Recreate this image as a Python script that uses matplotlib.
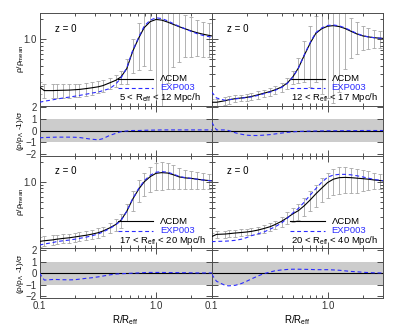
import numpy as np
from matplotlib import pyplot as plt
from matplotlib import ticker

plt.rcParams['font.family'] = ['Liberation Sans', 'DejaVu Sans']
plt.rcParams['mathtext.fontset'] = 'custom'
plt.rcParams['mathtext.rm'] = 'Liberation Sans'
plt.rcParams['mathtext.it'] = 'Liberation Sans:italic'

# radial bins R/R_eff
r_bins = [0.10, 0.11, 0.13, 0.14, 0.16, 0.18, 0.20, 0.22, 0.25, 0.28, 0.32,
          0.35, 0.40, 0.45, 0.50, 0.56, 0.63, 0.71, 0.79, 0.89, 1.00, 1.12,
          1.26, 1.41, 1.58, 1.78, 2.00, 2.24, 2.51, 2.82, 3.16]

bin_labels = ["5 < R$_{\\rm eff}$ < 12 Mpc/h", "12 < R$_{\\rm eff}$ < 17 Mpc/h",
              "17 < R$_{\\rm eff}$ < 20 Mpc/h", "20 < R$_{\\rm eff}$ < 40 Mpc/h"]

# LCDM profiles
lcdm_1 = [0.19, 0.168, 0.168, 0.169, 0.170, 0.171, 0.173, 0.175, 0.18, 0.185, 0.192,
          0.20, 0.22, 0.24, 0.27, 0.36, 0.66, 1.05, 1.50, 1.85, 2.00, 1.95,
          1.82, 1.68, 1.55, 1.44, 1.34, 1.26, 1.20, 1.15, 1.11]
lcdm_2 = [0.112, 0.112, 0.118, 0.122, 0.127, 0.130, 0.133, 0.137, 0.145, 0.153, 0.163,
          0.172, 0.19, 0.22, 0.27, 0.37, 0.58, 0.89, 1.23, 1.45, 1.58, 1.61,
          1.56, 1.46, 1.33, 1.21, 1.13, 1.09, 1.06, 1.04, 1.03]
lcdm_3 = [0.127, 0.130, 0.134, 0.137, 0.141, 0.144, 0.148, 0.152, 0.157, 0.163, 0.172,
          0.182, 0.203, 0.228, 0.265, 0.36, 0.55, 0.78, 1.00, 1.20, 1.35, 1.38,
          1.36, 1.28, 1.19, 1.15, 1.13, 1.10, 1.07, 1.05, 1.03]
lcdm_4 = [0.150, 0.162, 0.164, 0.166, 0.170, 0.173, 0.176, 0.180, 0.188, 0.198, 0.212,
          0.227, 0.255, 0.29, 0.33, 0.37, 0.44, 0.54, 0.66, 0.81, 0.98, 1.10,
          1.16, 1.17, 1.16, 1.14, 1.12, 1.10, 1.07, 1.05, 1.03]

# EXP003 profiles
exp_1 = [0.112, 0.116, 0.122, 0.125, 0.130, 0.134, 0.138, 0.142, 0.148, 0.154, 0.160,
         0.168, 0.18, 0.21, 0.26, 0.37, 0.68, 1.08, 1.58, 1.95, 2.12, 2.06,
         1.90, 1.72, 1.57, 1.44, 1.32, 1.22, 1.15, 1.10, 1.06]
exp_2 = [0.16, 0.13, 0.12, 0.122, 0.126, 0.129, 0.132, 0.135, 0.142, 0.150, 0.160,
         0.169, 0.187, 0.217, 0.268, 0.37, 0.59, 0.91, 1.26, 1.49, 1.62, 1.65,
         1.60, 1.49, 1.36, 1.23, 1.14, 1.09, 1.06, 1.04, 1.03]
exp_3 = [0.112, 0.116, 0.122, 0.126, 0.130, 0.133, 0.137, 0.141, 0.147, 0.154, 0.165,
         0.176, 0.198, 0.225, 0.262, 0.36, 0.56, 0.80, 1.04, 1.26, 1.40, 1.43,
         1.40, 1.31, 1.21, 1.16, 1.13, 1.10, 1.07, 1.05, 1.03]
exp_4 = [0.126, 0.127, 0.128, 0.129, 0.132, 0.137, 0.145, 0.155, 0.165, 0.175, 0.195,
         0.21, 0.24, 0.285, 0.34, 0.40, 0.50, 0.64, 0.79, 0.99, 1.18, 1.27,
         1.30, 1.30, 1.28, 1.24, 1.19, 1.14, 1.09, 1.06, 1.03]

# LCDM scatter (sigma)
sig_1 = [0.04, 0.04, 0.04, 0.04, 0.04, 0.04, 0.04, 0.04, 0.04, 0.04, 0.04,
         0.04, 0.045, 0.05, 0.06, 0.15, 0.35, 0.7, 1.1, 1.5, 1.9, 1.85,
         1.6, 1.3, 1.1, 0.9, 0.8, 0.7, 0.65, 0.6, 0.55]
sig_2 = [0.015, 0.015, 0.015, 0.015, 0.015, 0.015, 0.015, 0.015, 0.018, 0.02, 0.022,
         0.025, 0.03, 0.04, 0.06, 0.15, 0.35, 0.7, 1.0, 1.3, 1.45, 1.5,
         1.4, 1.1, 0.8, 0.6, 0.45, 0.38, 0.33, 0.3, 0.28]
sig_3 = [0.022, 0.022, 0.022, 0.022, 0.022, 0.022, 0.022, 0.022, 0.023, 0.025, 0.027,
         0.03, 0.035, 0.045, 0.06, 0.1, 0.18, 0.28, 0.38, 0.5, 0.6, 0.62,
         0.58, 0.5, 0.42, 0.38, 0.35, 0.33, 0.3, 0.28, 0.27]
sig_4 = [0.02, 0.02, 0.02, 0.02, 0.02, 0.02, 0.02, 0.02, 0.022, 0.025, 0.03,
         0.035, 0.045, 0.06, 0.08, 0.1, 0.13, 0.18, 0.24, 0.32, 0.4, 0.46,
         0.5, 0.5, 0.48, 0.45, 0.4, 0.35, 0.3, 0.28, 0.26]

# (rho/rho_LCDM - 1)/sigma
dev_1 = [-0.63, -0.60, -0.58, -0.57, -0.57, -0.57, -0.58, -0.60, -0.68, -0.75, -0.80,
         -0.70, -0.42, -0.25, -0.10, -0.04, 0.0, 0.0, 0.02, 0.03, 0.04, 0.05,
         0.05, 0.05, 0.05, 0.05, 0.05, 0.05, 0.05, 0.05, 0.05]
dev_2 = [0.7, 0.05, 0.05, 0.0, -0.2, -0.32, -0.40, -0.43, -0.43, -0.40, -0.35,
         -0.30, -0.22, -0.16, -0.12, -0.08, -0.06, -0.05, -0.04, -0.03, -0.02, -0.02,
         -0.02, -0.01, -0.01, -0.01, 0.0, 0.0, 0.0, 0.0, 0.0]
dev_3 = [0.0, -0.6, -0.55, -0.55, -0.57, -0.58, -0.57, -0.52, -0.45, -0.40, -0.32,
         -0.25, -0.15, -0.08, -0.05, -0.03, 0.0, 0.02, 0.05, 0.06, 0.06, 0.06,
         0.05, 0.05, 0.04, 0.04, 0.03, 0.02, 0.02, 0.02, 0.02]
dev_4 = [-0.1, -0.7, -1.05, -1.1, -1.05, -0.9, -0.7, -0.5, -0.25, -0.05, 0.1,
         0.2, 0.28, 0.32, 0.34, 0.34, 0.33, 0.32, 0.3, 0.3, 0.3, 0.28,
         0.25, 0.2, 0.15, 0.12, 0.08, 0.05, 0.03, 0.02, 0.0]

lcdm = [lcdm_1, lcdm_2, lcdm_3, lcdm_4]
exp = [exp_1, exp_2, exp_3, exp_4]
sig = [sig_1, sig_2, sig_3, sig_4]
dev = [dev_1, dev_2, dev_3, dev_4]

BLUE = '#2b2bff'
FS = 7
DASH = (0, (3.5, 2.5))


def style_axes(ax):
    ax.set_xscale('log')
    ax.set_xlim(0.1, 3.0)
    ax.xaxis.set_major_locator(ticker.FixedLocator([0.1, 1.0]))
    ax.xaxis.set_major_formatter(ticker.FixedFormatter(['0.1', '1.0']))
    ax.xaxis.set_minor_locator(ticker.LogLocator(base=10, subs=np.arange(2, 10)))
    ax.xaxis.set_minor_formatter(ticker.NullFormatter())
    ax.tick_params(which='both', direction='in', top=True, right=True,
                   labelsize=FS, width=0.6, pad=2, colors='0.2')
    ax.tick_params(which='major', length=4)
    ax.tick_params(which='minor', length=2)
    for s in ax.spines.values():
        s.set_linewidth(0.7)
        s.set_color('0.3')


def key(ax, y, label, color, ls):
    # hand-made legend entry, in axes fraction
    ax.plot([0.457, 0.66], [y, y], transform=ax.transAxes, color=color,
            lw=0.8, ls=ls)
    ax.text(0.70, y, label, transform=ax.transAxes, fontsize=6.8,
            color=color, va='center')


def profile_panel(ax, i, left):
    style_axes(ax)
    ax.set_yscale('log')
    ax.set_ylim(0.1, 2.5)
    ax.yaxis.set_major_locator(ticker.FixedLocator([1.0]))
    ax.yaxis.set_major_formatter(ticker.FixedFormatter(['1.0']))
    ax.yaxis.set_minor_locator(ticker.LogLocator(base=10, subs=np.arange(2, 10)))
    ax.yaxis.set_minor_formatter(ticker.NullFormatter())

    ax.errorbar(r_bins, lcdm[i], yerr=sig[i], fmt='none', ecolor='0.65',
                elinewidth=0.6, capsize=1.2, capthick=0.6, zorder=1)
    ax.plot(r_bins, lcdm[i], color='black', lw=0.8, zorder=3)
    ax.plot(r_bins, exp[i], color=BLUE, lw=0.8, ls=DASH, zorder=4)

    ax.text(0.09, 0.83, 'z = 0', transform=ax.transAxes, fontsize=FS, va='center')
    key(ax, 0.29, 'ΛCDM', 'black', '-')
    key(ax, 0.19, 'EXP003', BLUE, DASH)
    ax.text(0.46, 0.085, bin_labels[i], transform=ax.transAxes, fontsize=6.8,
            va='center')
    ax.tick_params(labelbottom=False)
    if not left:
        ax.tick_params(labelleft=False)


def ratio_panel(ax, i, left, bottom):
    style_axes(ax)
    ax.set_ylim(-2.15, 2.15)
    ax.yaxis.set_major_locator(ticker.FixedLocator([-2, -1, 0, 1, 2]))
    ax.axhspan(-1, 1, color='#cccccc', lw=0, zorder=0)
    ax.axhline(0, color='black', lw=0.8, zorder=2)
    ax.plot(r_bins, dev[i], color=BLUE, lw=0.8, ls=DASH, zorder=3)
    if not bottom:
        ax.tick_params(labelbottom=False)
    else:
        ax.set_xlabel('R/R$_{\\rm eff}$', fontsize=FS, labelpad=2)
    if not left:
        ax.tick_params(labelleft=False)


def main():
    fig = plt.figure(figsize=(3.99, 3.32), dpi=100)
    cols = [(0.099, 0.4316), (0.5306, 0.4293)]
    rows = [((0.6822, 0.2786), (0.5316, 0.1506)),
            ((0.2521, 0.2795), (0.1024, 0.1497))]

    for r in range(2):
        for c in range(2):
            i = r * 2 + c
            x0, w = cols[c]
            (py, ph), (ry, rh) = rows[r]
            ax_p = fig.add_axes([x0, py, w, ph])
            ax_r = fig.add_axes([x0, ry, w, rh])
            profile_panel(ax_p, i, c == 0)
            ratio_panel(ax_r, i, c == 0, r == 1)
        (py, ph), (ry, rh) = rows[r]
        fig.text(0.052, py + ph / 2, 'ρ/ρ$_{\\rm mean}$', rotation=90,
                 fontsize=6, ha='center', va='center')
        fig.text(0.052, ry + rh / 2, '(ρ/ρ$_{\\Lambda}$ -1)/σ', rotation=90,
                 fontsize=6, ha='center', va='center')

    fig.savefig('out.png', dpi=100)


if __name__ == "__main__":
    main()
